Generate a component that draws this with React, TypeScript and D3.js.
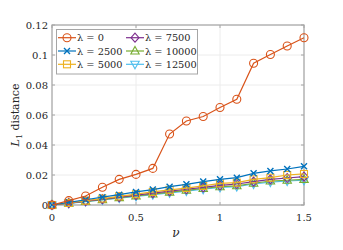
import React from 'react';
import * as d3 from 'd3';

// nu values on the x axis
const nuValues = [0, 0.1, 0.2, 0.3, 0.4, 0.5, 0.6, 0.7, 0.8, 0.9, 1.0, 1.1, 1.2, 1.3, 1.4, 1.5];

const lambdaLabels = ['0', '2500', '5000', '7500', '10000', '12500'];

// L1 distance per lambda
const dist0 = [0, 0.0029, 0.006, 0.0118, 0.0171, 0.0204, 0.0244, 0.0473, 0.056, 0.059, 0.065, 0.0705, 0.0945, 0.1003, 0.106, 0.1115];
const dist2500 = [0, 0.0018, 0.0035, 0.0052, 0.0069, 0.0087, 0.0103, 0.0122, 0.0138, 0.0156, 0.0171, 0.0182, 0.0211, 0.0227, 0.024, 0.0258];
const dist5000 = [0, 0.0014, 0.0029, 0.0043, 0.0058, 0.0072, 0.0087, 0.0101, 0.0113, 0.0127, 0.0144, 0.0149, 0.0171, 0.0182, 0.02, 0.0207];
const dist7500 = [0, 0.0013, 0.0026, 0.0039, 0.0053, 0.0066, 0.0079, 0.0093, 0.0105, 0.0118, 0.0131, 0.014, 0.0156, 0.0171, 0.018, 0.0189];
const dist10000 = [0, 0.0012, 0.0024, 0.0036, 0.0049, 0.0061, 0.0073, 0.0086, 0.0098, 0.011, 0.0122, 0.0128, 0.0145, 0.016, 0.0165, 0.0171];
const dist12500 = [0, 0.0011, 0.0023, 0.0034, 0.0046, 0.0057, 0.0069, 0.0081, 0.0093, 0.0105, 0.0117, 0.0123, 0.014, 0.0153, 0.016, 0.0165];

const xTicks = [0, 0.5, 1, 1.5];
const yTicks = [0, 0.02, 0.04, 0.06, 0.08, 0.1, 0.12];

const colors = ['#D95319', '#0072BD', '#EDB120', '#7E2F8E', '#77AC30', '#4DBEEE'];
const markers = ['circle', 'x', 'square', 'diamond', 'triangle', 'triangleDown'];

const font = "'DejaVu Serif', serif";

function Marker({ type, x, y, color }: { type: string; x: number; y: number; color: string }) {
  const common = { fill: 'none', stroke: color, strokeWidth: 1.1 };
  switch (type) {
    case 'circle':
      return <circle cx={x} cy={y} r={4} {...common} />;
    case 'x':
      return (
        <path d={`M${x - 3},${y - 3}L${x + 3},${y + 3}M${x - 3},${y + 3}L${x + 3},${y - 3}`} {...common} strokeWidth={1.4} />
      );
    case 'square':
      return <rect x={x - 3.5} y={y - 3.5} width={7} height={7} {...common} />;
    case 'diamond':
      return <path d={`M${x},${y - 4.5}L${x + 4},${y}L${x},${y + 4.5}L${x - 4},${y}Z`} {...common} />;
    case 'triangle':
      return <path d={`M${x},${y - 4.5}L${x + 4.2},${y + 3}L${x - 4.2},${y + 3}Z`} {...common} />;
    default:
      return <path d={`M${x},${y + 4.5}L${x + 4.2},${y - 3}L${x - 4.2},${y - 3}Z`} {...common} />;
  }
}

export default function App() {
  const width = 343;
  const height = 250;
  const left = 52, right = 304, top = 25, bottom = 205;

  const x = d3.scaleLinear().domain([0, 1.5]).range([left, right]);
  const y = d3.scaleLinear().domain([0, 0.12]).range([bottom, top]);

  const series = [dist0, dist2500, dist5000, dist7500, dist10000, dist12500];

  const line = d3
    .line<number>()
    .x((d, i) => x(nuValues[i]))
    .y(d => y(d));

  // legend layout: 3 rows, 2 columns (column-major)
  const legendRows = [37.7, 51, 64.3];
  const legendCols = [58, 126];

  return (
    <svg width={width} height={height} fontFamily={font} style={{ position: 'absolute', left: 0, top: 0, background: '#fff' }}>
      {/* grid */}
      {xTicks.map(t => (
        <line key={'gx' + t} x1={x(t)} x2={x(t)} y1={top} y2={bottom} stroke="#ececec" strokeWidth={1} />
      ))}
      {yTicks.map(t => (
        <line key={'gy' + t} x1={left} x2={right} y1={y(t)} y2={y(t)} stroke="#ececec" strokeWidth={1} />
      ))}

      {/* axes box */}
      <rect x={left} y={top} width={right - left} height={bottom - top} fill="none" stroke="#a6a6a6" strokeWidth={1.2} />
      {xTicks.map(t => (
        <g key={'tx' + t}>
          <line x1={x(t)} x2={x(t)} y1={bottom} y2={bottom - 3} stroke="#a6a6a6" />
          <line x1={x(t)} x2={x(t)} y1={top} y2={top + 3} stroke="#a6a6a6" />
          <text x={x(t)} y={221} textAnchor="middle" fontSize={10} fill="#262626">
            {t}
          </text>
        </g>
      ))}
      {yTicks.map(t => (
        <g key={'ty' + t}>
          <line x1={left} x2={left + 3} y1={y(t)} y2={y(t)} stroke="#a6a6a6" />
          <line x1={right} x2={right - 3} y1={y(t)} y2={y(t)} stroke="#a6a6a6" />
          <text x={48} y={y(t) + 3.5} textAnchor="end" fontSize={10} fill="#262626">
            {t}
          </text>
        </g>
      ))}

      {/* series */}
      {series
        .map((s, k) => ({ s, k }))
        .reverse()
        .map(({ s, k }) => (
          <g key={'s' + k}>
            <path d={line(s) || ''} fill="none" stroke={colors[k]} strokeWidth={1.2} />
            {s.map((v, i) => (
              <Marker key={i} type={markers[k]} x={x(nuValues[i])} y={y(v)} color={colors[k]} />
            ))}
          </g>
        ))}

      {/* axis labels */}
      <text x={176} y={237} textAnchor="middle" fontSize={12} fontStyle="italic" fill="#262626">
        ν
      </text>
      <text transform="translate(19,115) rotate(-90)" textAnchor="middle" fontSize={11} fill="#262626">
        <tspan fontStyle="italic">L</tspan>
        <tspan fontSize={8} dy={3}>1</tspan>
        <tspan dy={-3}> distance</tspan>
      </text>

      {/* legend */}
      <rect x={56.5} y={29.5} width={141} height={44.5} fill="#fff" stroke="#a6a6a6" strokeWidth={1} />
      {lambdaLabels.map((lab, k) => {
        const col = Math.floor(k / 3);
        const row = k % 3;
        const lx = legendCols[col];
        const ly = legendRows[row];
        return (
          <g key={'l' + k}>
            <line x1={lx} x2={lx + 18} y1={ly} y2={ly} stroke={colors[k]} strokeWidth={1.2} />
            <Marker type={markers[k]} x={lx + 9} y={ly} color={colors[k]} />
            <text x={lx + 19} y={ly + 3.5} fontSize={9.8} fill="#262626">
              λ = {lab}
            </text>
          </g>
        );
      })}
    </svg>
  );
}
